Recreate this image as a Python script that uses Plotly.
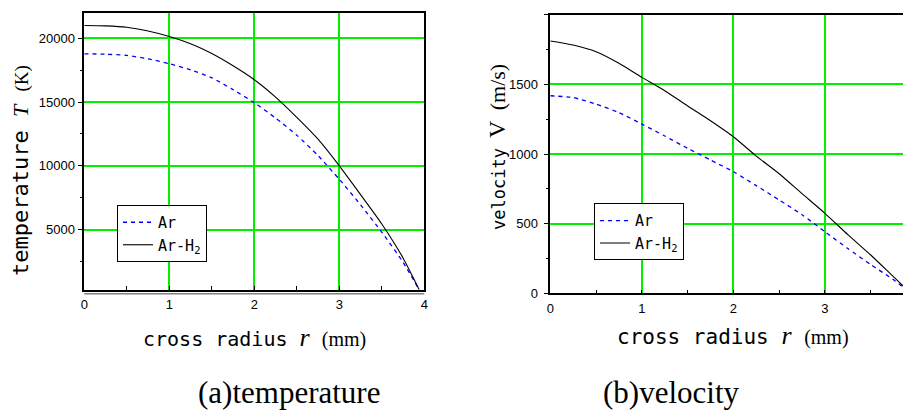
import plotly.graph_objects as go

# ---------------- data ----------------
r_mm = [0, 0.25, 0.5, 0.75, 1.0, 1.25, 1.5, 1.75, 2.0, 2.25, 2.5, 2.75, 3.0, 3.25, 3.5, 3.75, 3.94]
T_ar = [18780, 18750, 18650, 18390, 18000, 17530, 16900, 15970, 14950, 13750, 12400, 10800, 8950, 6950, 4800, 2450, 300]
T_arh2 = [21000, 20970, 20860, 20560, 20130, 19560, 18800, 17840, 16750, 15390, 13800, 12090, 10000, 7750, 5450, 2790, 300]
V_ar = [1418, 1405, 1358, 1297, 1215, 1129, 1041, 957, 873, 773, 670, 564, 442, 321, 206, 97, 0]
V_arh2 = [1811, 1782, 1734, 1651, 1550, 1454, 1345, 1239, 1124, 985, 858, 715, 574, 421, 275, 118, 0]

series_names = ["Ar", "Ar-H<sub>2</sub>"]
T_ticks = [5000, 10000, 15000, 20000]
T_minor = [2500, 7500, 12500, 17500]
V_ticks = [0, 500, 1000, 1500, 2000]
V_minor = [250, 750, 1250, 1750]
r_ticks_a = [0, 1, 2, 3, 4]
r_ticks_b = [0, 1, 2, 3]
r_minor = [0.5, 1.5, 2.5, 3.5]
captions = ["(a)temperature", "(b)velocity"]

# the page body has an 8px margin, so the figure is laid out in page pixels minus 8
OFF = 8
W, H = 911 - OFF, 410 - OFF
def px(x): return (x - OFF) / W
def py(y): return 1 - (y - OFF) / H

BLUE = "#0000ff"
GRID = "#00f000"
SANS = "Liberation Sans"
MONO = "DejaVu Sans Mono"
SERIF = "Liberation Serif"

fig = go.Figure()
line_ar = dict(color=BLUE, width=1.3, dash="4px,4px", shape="spline", smoothing=0.6)
line_h2 = dict(color="black", width=1.1, shape="spline", smoothing=0.6)
fig.add_trace(go.Scatter(x=r_mm, y=T_ar, mode="lines", name=series_names[0],
                         line=line_ar, xaxis="x", yaxis="y", legend="legend"))
fig.add_trace(go.Scatter(x=r_mm, y=T_arh2, mode="lines", name=series_names[1],
                         line=line_h2, xaxis="x", yaxis="y", legend="legend"))
fig.add_trace(go.Scatter(x=r_mm, y=V_ar, mode="lines", name=series_names[0],
                         line=line_ar, xaxis="x2", yaxis="y2", legend="legend2"))
fig.add_trace(go.Scatter(x=r_mm, y=V_arh2, mode="lines", name=series_names[1],
                         line=line_h2, xaxis="x2", yaxis="y2", legend="legend2"))

axis_common = dict(showline=True, linecolor="black", linewidth=1.5, automargin=False,
                   ticks="outside", ticklen=5, tickcolor="black", tickwidth=1,
                   showgrid=True, gridcolor=GRID, gridwidth=1.5, zeroline=False,
                   tickformat="d",
                   tickfont=dict(family=SANS, size=13, color="black"))
x_ticks = dict(ticks="inside", ticklen=4, ticklabelstandoff=2)
x_minor = dict(tickvals=r_minor, ticks="inside", ticklen=4, tickcolor="black", showgrid=False)
y_minor = dict(ticks="outside", ticklen=3, tickcolor="black", showgrid=False)

fig.update_layout(
    template="none",
    width=W, height=H, margin=dict(l=0, r=0, t=0, b=0, autoexpand=False),
    paper_bgcolor="white", plot_bgcolor="white",
    xaxis=dict(axis_common, **x_ticks, domain=[px(84.3), px(424.3)], range=[0, 4], anchor="y",
               tickvals=r_ticks_a, mirror=True, minor=x_minor),
    yaxis=dict(axis_common, domain=[py(289.7), py(12.7)], range=[300, 22000], anchor="x",
               tickvals=T_ticks, mirror=True, minor=dict(y_minor, tickvals=T_minor)),
    xaxis2=dict(axis_common, **x_ticks, domain=[px(550.3), 1.0], range=[0, 3.94], anchor="y2",
                tickvals=r_ticks_b, mirror=True, minor=x_minor),
    yaxis2=dict(axis_common, domain=[py(293.3), py(14.7)], range=[0, 2000], anchor="x2",
                tickvals=V_ticks, mirror=False, ticklabelstandoff=3,
                minor=dict(y_minor, tickvals=V_minor)),
    legend=dict(x=px(117), y=py(205), xanchor="left", yanchor="top",
                bgcolor="white", bordercolor="black", borderwidth=1,
                font=dict(family=MONO, size=15, color="black"), itemwidth=30,
                tracegroupgap=0),
    legend2=dict(x=px(594), y=py(203.3), xanchor="left", yanchor="top",
                 bgcolor="white", bordercolor="black", borderwidth=1,
                 font=dict(family=MONO, size=15, color="black"), itemwidth=30,
                 tracegroupgap=0),
    showlegend=True,
)

# gray baseline under the left panel
fig.add_shape(type="line", xref="paper", yref="paper",
              x0=px(84.3), x1=px(424.3), y0=py(293.8), y1=py(293.8),
              line=dict(color="#808080", width=1.5))

def serif(txt, size, italic=False):
    t = f"<i>{txt}</i>" if italic else txt
    return f"<span style='font-family:{SERIF};font-size:{size}px'>{t}</span>"

annots = [
    dict(x=px(255), y=py(337), text="cross radius " + serif("r", 26, True) + " " + serif("(mm)", 20),
         font=dict(family=MONO, size=20, color="black"), textangle=0),
    dict(x=px(733), y=py(335), text="cross radius " + serif("r", 26, True) + " " + serif("(mm)", 20),
         font=dict(family=MONO, size=21, color="black"), textangle=0),
    dict(x=px(20), y=py(171), text="temperature " + serif("T", 22, True) + " " + serif("(K)", 19),
         font=dict(family=MONO, size=22, color="black"), textangle=-90),
    dict(x=px(497), y=py(147), text="velocity " + serif("V", 24) + " " + serif("(m/s)", 22),
         font=dict(family=MONO, size=17, color="black"), textangle=-90),
    dict(x=px(289), y=py(392), text=captions[0],
         font=dict(family=SERIF, size=31, color="black"), textangle=0),
    dict(x=px(671), y=py(392), text=captions[1],
         font=dict(family=SERIF, size=31, color="black"), textangle=0),
]
for a in annots:
    fig.add_annotation(xref="paper", yref="paper", showarrow=False,
                       xanchor="center", yanchor="middle", **a)

fig.write_html("out.html")
